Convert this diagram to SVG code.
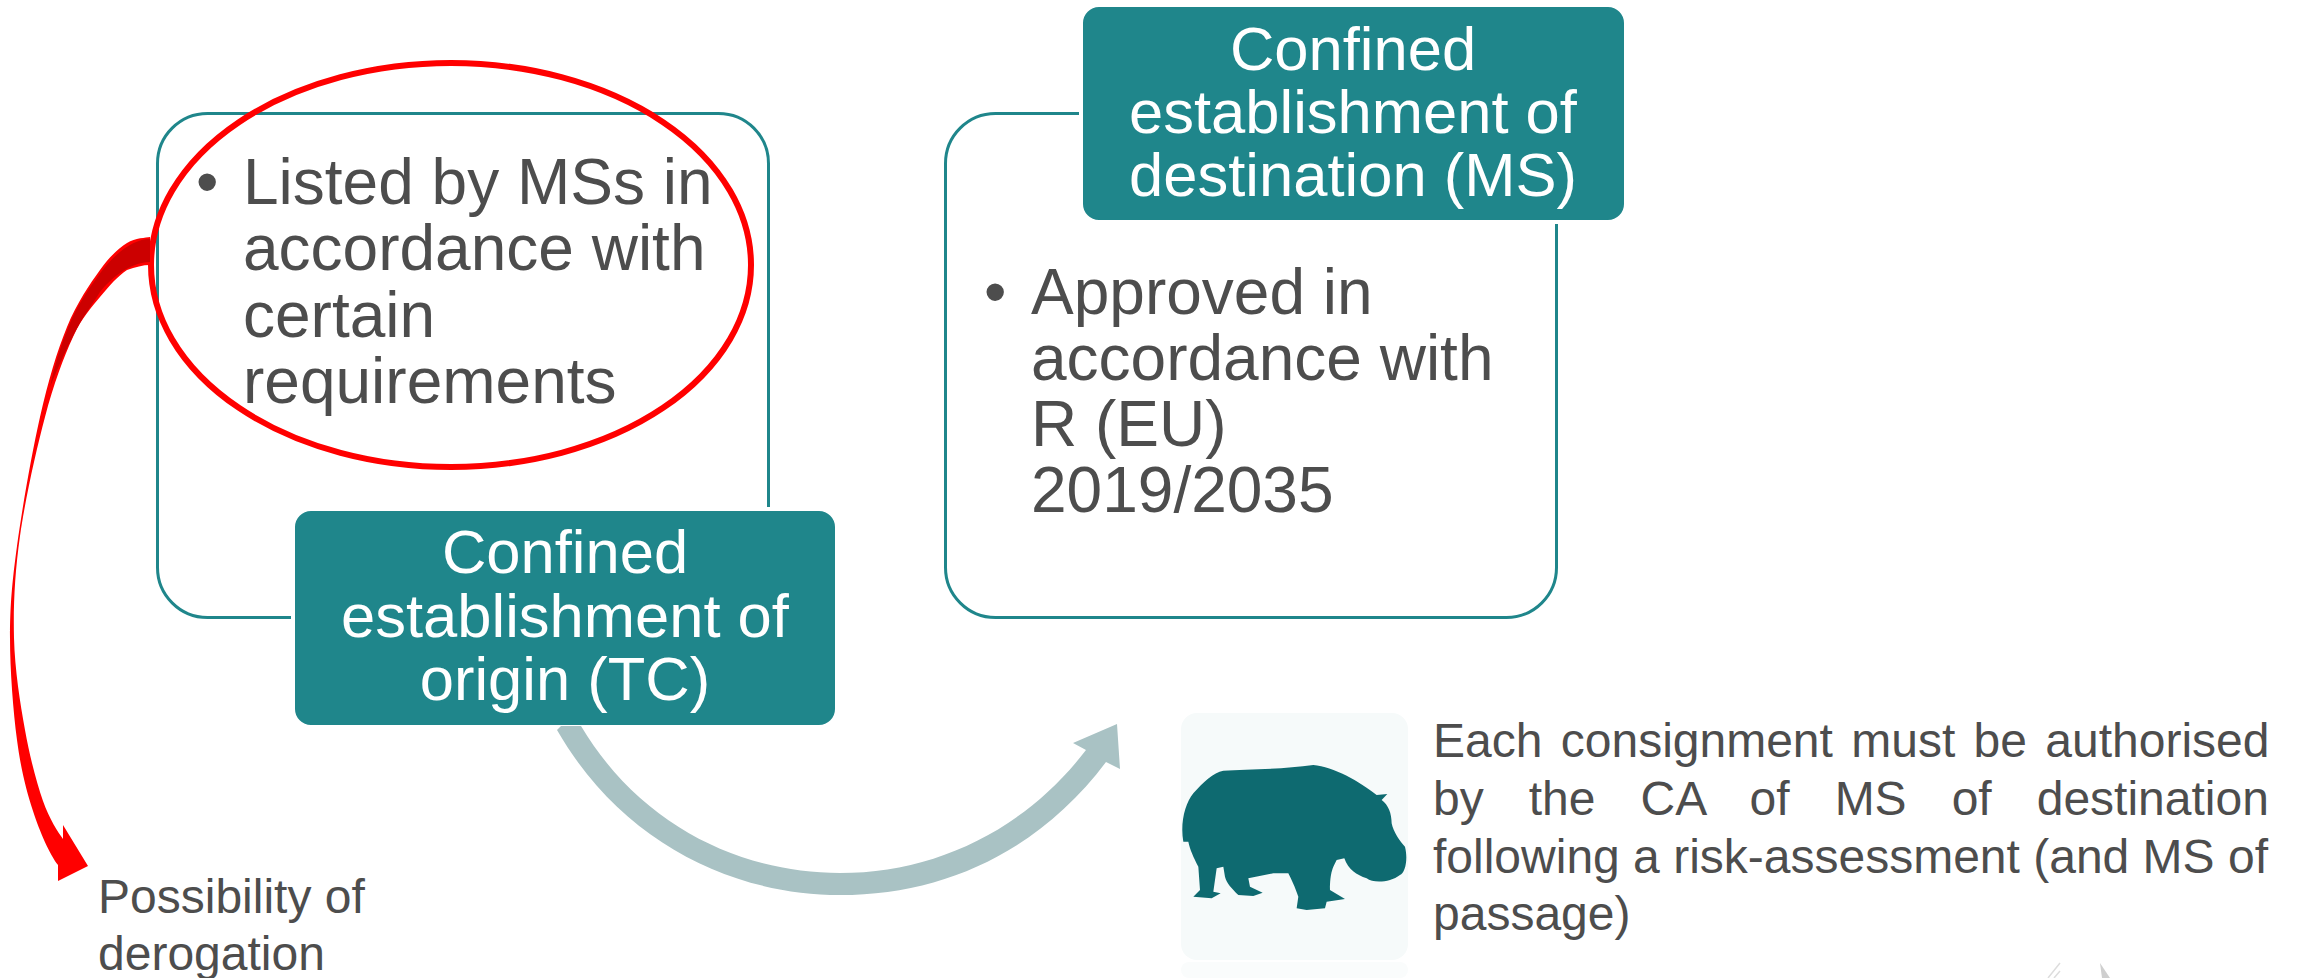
<svg xmlns="http://www.w3.org/2000/svg" width="2300" height="978" viewBox="0 0 2300 978">
<style>
text{font-family:"Liberation Sans",Arial,sans-serif}
.frame{fill:#fff;stroke:#1f868b;stroke-width:3}
.head{fill:#1f868b;stroke:#fff;stroke-width:4}
.ht{fill:#fff;font-size:61.500px;text-anchor:middle}
.bt{fill:#4d4d4d;font-size:64px}
.st{fill:#4d4d4d;font-size:48px}
</style>
<rect width="2300" height="978" fill="#fff"/>
<g id="origin-frame"><rect class="frame" x="157.500" y="113.500" width="611" height="504" rx="50"/></g>
<g id="destination-frame"><rect class="frame" x="945.500" y="113.500" width="611" height="504" rx="50"/>
<text class="bt" x="984" y="314">•</text>
<text class="bt"><tspan x="1031" y="314">Approved in</tspan><tspan x="1031" y="380">accordance with</tspan><tspan x="1031" y="446">R (EU)</tspan><tspan x="1031" y="512">2019/2035</tspan></text></g>
<g id="destination-header"><rect class="head" x="1081" y="5" width="545" height="217" rx="18"/>
<text class="ht"><tspan x="1353" y="70">Confined</tspan><tspan x="1353" y="133">establishment of</tspan><tspan x="1353" y="196">destination (MS)</tspan></text></g>
<g id="origin-list"><text class="bt" x="196" y="204">•</text>
<text class="bt"><tspan x="243" y="204">Listed by MSs in</tspan><tspan x="243" y="270">accordance with</tspan><tspan x="243" y="337">certain</tspan><tspan x="243" y="403">requirements</tspan></text></g>
<g id="origin-header"><rect class="head" x="293" y="509" width="544" height="218" rx="18"/>
<text class="ht"><tspan x="565" y="573">Confined</tspan><tspan x="565" y="637">establishment of</tspan><tspan x="565" y="700">origin (TC)</tspan></text></g>
<g id="highlight"><ellipse cx="451" cy="265" rx="300" ry="202" fill="none" stroke="#f00" stroke-width="6"/></g>
<g id="connectors">
<path id="derogation-arrow" fill="#f00" d="M150,237C146,238 135.300,237.500 127,243C118.700,248.500 110,256 100,270C90,284 77,302.500 67,327C57,351.500 48.300,380.500 40,417C31.700,453.500 22,509.200 17,546C12,582.800 10,605.700 10,638C10,670 13.200,711.200 17,740C20.800,768.800 26.200,790.200 33,811C39.800,832 50,855 58,865L58,881L88,866L63,825L63,839C58,832 49.300,819 43,801C36.700,783 29.800,757 25,730C20.200,703 14.800,670 14,638C13.200,605.700 14.800,572.800 20,536C25.200,499.200 36.200,450 45,417C53.800,383.800 63.800,357 73,337C82.200,317 91,308 100,297C109,286 118.700,275.300 127,270C135.300,267 143,265 150,265Z"/>
<path fill="#cc0000" d="M150,239C135,239 118,250 101,272C88,290 77,305 68,328C60,347 54,367 50,387C56,372 64,354 74,334C82,318 92,305 100,292C110,280 127,263 150,262Z"/>
<path id="flow-arrow" fill="#a9c2c4" d="M557,730C620,840 730,895 840,895C945,895 1040,850 1106,762L1120,769L1117,724L1073,743L1086,750C1025,830 935,873 840,873C740,873 640,825 581,726L561,726Z"/>
</g>
<g id="derogation-label"><text class="st"><tspan x="98" y="913">Possibility of</tspan><tspan x="98" y="970">derogation</tspan></text></g>
<g id="hippo-icon"><rect x="1181" y="713" width="227" height="247" rx="16" fill="#f6fafa"/><rect x="1181" y="962" width="227" height="16" rx="8" fill="#fafcfc"/>
<path fill="#0e6a70" transform="translate(1160 700) scale(.3333)" d="M70,425C60,370 75,310 100,280C130,245 160,218 190,212C260,208 370,208 460,195C520,200 600,245 650,285L682,282L665,300C685,315 695,340 695,370C700,395 720,425 735,440C745,480 735,520 720,525C690,548 640,550 620,535C590,525 565,510 553,475L530,480C520,500 510,515 510,570L555,597L500,605L495,625L440,630L410,625L415,590C405,560 395,540 385,520L340,520L265,535L270,560L308,578L280,588L235,585C215,565 200,550 195,530L190,500L170,505L160,575L182,580L155,595L100,590L120,570L115,500C100,470 90,450 85,425Z"/></g>
<g id="consignment-note"><text class="st"><tspan x="1433" y="757" word-spacing="5">Each consignment must be authorised</tspan><tspan x="1433" y="815" word-spacing="31.700">by the CA of MS of destination</tspan><tspan x="1433" y="873">following a risk-assessment (and MS of</tspan><tspan x="1433" y="930">passage)</tspan></text></g>
<g id="corner-fragment"><path fill="none" stroke="#ddd" stroke-width="1.500" d="M2060,963L2048,978M2060,971L2054,978"/><path fill="#cfcfcf" d="M2100,963L2110,978L2102,978Z"/></g>
</svg>
